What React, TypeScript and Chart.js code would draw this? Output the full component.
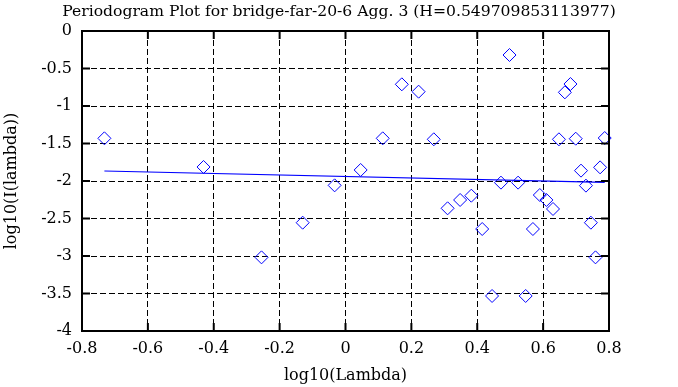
import React, { useEffect, useRef } from "react";
import { Chart, registerables } from "chart.js";

Chart.register(...registerables);

const titleText = "Periodogram Plot for bridge-far-20-6 Agg. 3 (H=0.549709853113977)";
const xAxisTitle = "log10(Lambda)";
const yAxisTitle = "log10(I(lambda))";

const logLambda = [
  -0.732, -0.431, -0.255, -0.13, -0.033, 0.046, 0.113, 0.171, 0.222, 0.268, 0.31,
  0.348, 0.382, 0.415, 0.445, 0.472, 0.498, 0.524, 0.547, 0.569, 0.59, 0.61, 0.63,
  0.648, 0.666, 0.683, 0.699, 0.715, 0.73, 0.745, 0.759, 0.773, 0.787,
];
const logI = [
  -1.431, -1.813, -3.018, -2.556, -2.058, -1.853, -1.431, -0.711, -0.809, -1.444, -2.364,
  -2.253, -2.196, -2.64, -3.533, -2.022, -0.32, -2.022, -3.533, -2.64, -2.187, -2.253, -2.373,
  -1.444, -0.818, -0.707, -1.436, -1.862, -2.062, -2.556, -3.018, -1.818, -1.427,
];

const fitX = [-0.732, 0.787];
const fitY = [-1.867, -2.018];

const xTickValues = [-0.8, -0.6, -0.4, -0.2, 0, 0.2, 0.4, 0.6, 0.8];
const xTickLabels = ["-0.8", "-0.6", "-0.4", "-0.2", "0", "0.2", "0.4", "0.6", "0.8"];
const yTickValues = [-4, -3.5, -3, -2.5, -2, -1.5, -1, -0.5, 0];
const yTickLabels = ["-4", "-3.5", "-3", "-2.5", "-2", "-1.5", "-1", "-0.5", "0"];

const FONT = "'DejaVu Serif', serif";

export default function App() {
  const ref = useRef<HTMLCanvasElement | null>(null);

  useEffect(() => {
    const canvas = ref.current;
    if (!canvas) return;

    const framePlugin = {
      id: "frame",
      afterDatasetsDraw(chart: any) {
        const { ctx, chartArea } = chart;
        const { left, right, top, bottom } = chartArea;
        const xs = chart.scales.x;
        const ys = chart.scales.y;
        ctx.save();
        ctx.strokeStyle = "#000";
        ctx.lineWidth = 2;
        ctx.setLineDash([]);
        const tl = 8;
        ctx.beginPath();
        for (const v of xTickValues) {
          const px = xs.getPixelForValue(v);
          ctx.moveTo(px, bottom);
          ctx.lineTo(px, bottom - tl);
          ctx.moveTo(px, top);
          ctx.lineTo(px, top + tl);
        }
        for (const v of yTickValues) {
          const py = ys.getPixelForValue(v);
          ctx.moveTo(left, py);
          ctx.lineTo(left + tl, py);
          ctx.moveTo(right, py);
          ctx.lineTo(right - tl, py);
        }
        ctx.stroke();
        ctx.strokeRect(left, top, right - left, bottom - top);
        ctx.restore();
      },
      afterDraw(chart: any) {
        const { ctx } = chart;
        ctx.save();
        ctx.fillStyle = "#000";
        ctx.font = `15.6px ${FONT}`;
        ctx.textAlign = "center";
        ctx.textBaseline = "alphabetic";
        ctx.fillText(titleText, chart.width / 2, 15.5);
        ctx.restore();
      },
    };

    const chart = new Chart(canvas, {
      type: "scatter",
      data: {
        datasets: [
          {
            type: "line",
            label: "fit",
            data: fitX.map((x, i) => ({ x, y: fitY[i] })),
            borderColor: "#0000ff",
            borderWidth: 1.2,
            pointRadius: 0,
            fill: false,
          },
          {
            type: "scatter",
            label: "periodogram",
            data: logLambda.map((x, i) => ({ x, y: logI[i] })),
            pointStyle: "rectRot",
            pointRadius: 6.5,
            pointBorderWidth: 1,
            borderColor: "#0000ff",
            backgroundColor: "rgba(0,0,0,0)",
            pointBackgroundColor: "rgba(0,0,0,0)",
            pointBorderColor: "#0000ff",
            clip: false as any,
          },
        ],
      },
      options: {
        responsive: false,
        animation: false,
        devicePixelRatio: 1,
        layout: { padding: { left: 0, right: 69, top: 31, bottom: 0 } },
        plugins: {
          legend: { display: false },
          title: { display: false },
          tooltip: { enabled: false },
        },
        scales: {
          x: {
            type: "linear",
            min: -0.8,
            max: 0.8,
            afterFit(scale: any) {
              scale.height = 56;
            },
            afterBuildTicks(scale: any) {
              scale.ticks = xTickValues.map((value) => ({ value }));
            },
            ticks: {
              color: "#000",
              font: { family: FONT, size: 16 },
              padding: 8,
              maxRotation: 0,
              autoSkip: false,
              callback: (value: any) => {
                const i = xTickValues.findIndex((t) => Math.abs(t - value) < 1e-9);
                return i >= 0 ? xTickLabels[i] : "";
              },
            },
            grid: {
              color: "#000",
              lineWidth: 1,
              drawTicks: false,
            },
            border: { display: false, dash: [6, 3] },
            title: {
              display: true,
              text: xAxisTitle,
              color: "#000",
              font: { family: FONT, size: 16 },
              padding: { top: 0, bottom: 2 },
            },
          },
          y: {
            type: "linear",
            min: -4,
            max: 0,
            afterFit(scale: any) {
              scale.width = 82;
            },
            afterBuildTicks(scale: any) {
              scale.ticks = yTickValues.map((value) => ({ value }));
            },
            ticks: {
              color: "#000",
              font: { family: FONT, size: 16 },
              padding: 10,
              autoSkip: false,
              callback: (value: any) => {
                const i = yTickValues.findIndex((t) => Math.abs(t - value) < 1e-9);
                return i >= 0 ? yTickLabels[i] : "";
              },
            },
            grid: {
              color: "#000",
              lineWidth: 1,
              drawTicks: false,
            },
            border: { display: false, dash: [6, 3] },
            title: {
              display: true,
              text: yAxisTitle,
              color: "#000",
              font: { family: FONT, size: 16 },
              padding: { top: 2, bottom: 0 },
            },
          },
        },
      },
      plugins: [framePlugin],
    });

    return () => chart.destroy();
  }, []);

  return (
    <div style={{ position: "fixed", left: 0, top: 0, width: 678, height: 387, background: "#fff" }}>
      <canvas ref={ref} width={678} height={387} style={{ display: "block", width: 678, height: 387 }} />
    </div>
  );
}
